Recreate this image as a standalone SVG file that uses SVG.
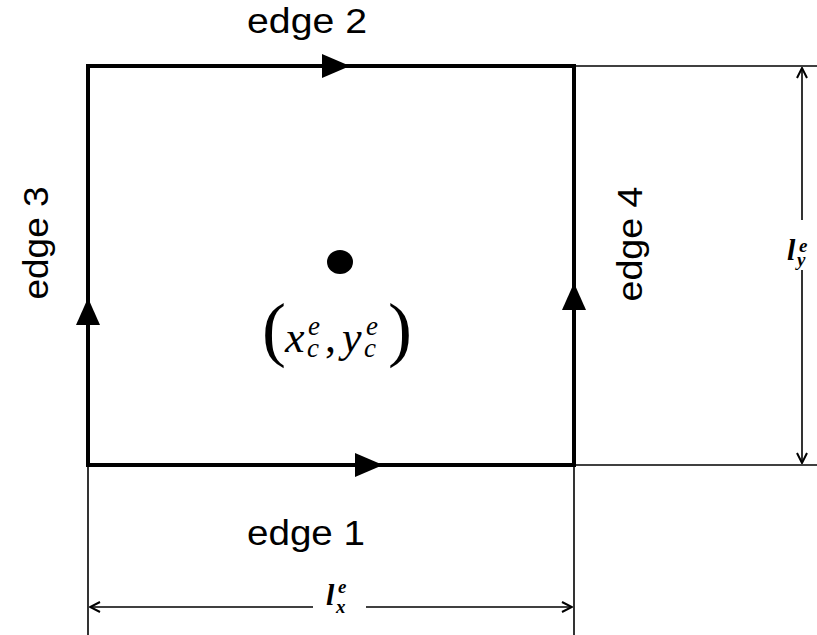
<svg xmlns="http://www.w3.org/2000/svg" width="817" height="635" viewBox="0 0 817 635">
<defs>
<style>
.lbl{font-family:"Liberation Sans",Arial,sans-serif;font-size:35px;fill:#000}
.math{font-family:"Liberation Serif","Times New Roman",serif;font-style:italic;fill:#000}
.up{font-family:"Liberation Serif","Times New Roman",serif;fill:#000}
.thick{stroke:#000;stroke-width:4;fill:none}
.thin{stroke:#000;stroke-width:1.6;fill:none}
.tri{fill:#000}
</style>
<marker id="open" viewBox="0 0 12 12" refX="11" refY="6" markerWidth="12" markerHeight="12" markerUnits="userSpaceOnUse" orient="auto-start-reverse">
<path d="M1,1 L11,6 L1,11" fill="none" stroke="#000" stroke-width="2"/>
</marker>
</defs>
<rect width="817" height="635" fill="#fff"/>
<g id="connectors">
<path class="thick" d="M88,465 L574,465 L574,66 L88,66 Z"/>
<polygon class="tri" points="322,54 350,66 322,78"/>
<polygon class="tri" points="355,453 383,465 355,477"/>
<polygon class="tri" points="76,325 88,298 100,325"/>
<polygon class="tri" points="562,310 574,283 586,310"/>
<line class="thin" x1="576" y1="66" x2="817" y2="66"/>
<line class="thin" x1="576" y1="465" x2="817" y2="465"/>
<line class="thin" x1="88" y1="467" x2="88" y2="635"/>
<line class="thin" x1="574" y1="467" x2="574" y2="635"/>
<line class="thin" x1="802" y1="220" x2="802" y2="68" marker-end="url(#open)"/>
<line class="thin" x1="802" y1="270" x2="802" y2="463" marker-end="url(#open)"/>
<line class="thin" x1="313" y1="607" x2="90" y2="607" marker-end="url(#open)"/>
<line class="thin" x1="366" y1="607" x2="572" y2="607" marker-end="url(#open)"/>
</g>
<g id="center">
<ellipse cx="340" cy="262" rx="13" ry="12" fill="#000"/>
<text class="up" x="262" y="353" font-size="72">(</text>
<text class="math" x="285" y="352" font-size="44">x<tspan font-size="27" x="308" y="335">e</tspan><tspan font-size="27" x="307" y="357">c</tspan></text>
<text class="up" x="325" y="352" font-size="44">,</text>
<text class="math" x="342" y="352" font-size="44">y<tspan font-size="27" x="366" y="335">e</tspan><tspan font-size="27" x="364" y="357">c</tspan></text>
<text class="up" x="388" y="353" font-size="72">)</text>
</g>
<g id="edge1"><text class="lbl" x="306" y="545" text-anchor="middle" textLength="118" lengthAdjust="spacingAndGlyphs">edge 1</text></g>
<g id="edge2"><text class="lbl" x="307" y="33" text-anchor="middle" textLength="120" lengthAdjust="spacingAndGlyphs">edge 2</text></g>
<g id="edge3"><text class="lbl" transform="translate(48,243) rotate(-90)" text-anchor="middle" textLength="113" lengthAdjust="spacingAndGlyphs">edge 3</text></g>
<g id="edge4"><text class="lbl" transform="translate(642,244) rotate(-90)" text-anchor="middle" textLength="115" lengthAdjust="spacingAndGlyphs">edge 4</text></g>
<g id="ly">
<text class="math" x="787" y="260" font-size="30" font-weight="bold">l<tspan font-size="19" x="799" y="252">e</tspan><tspan font-size="19" x="797" y="266">y</tspan></text>
</g>
<g id="lx">
<text class="math" x="326" y="605" font-size="30" font-weight="bold">l<tspan font-size="19" x="338" y="593">e</tspan><tspan font-size="19" x="336" y="613">x</tspan></text>
</g>
</svg>
